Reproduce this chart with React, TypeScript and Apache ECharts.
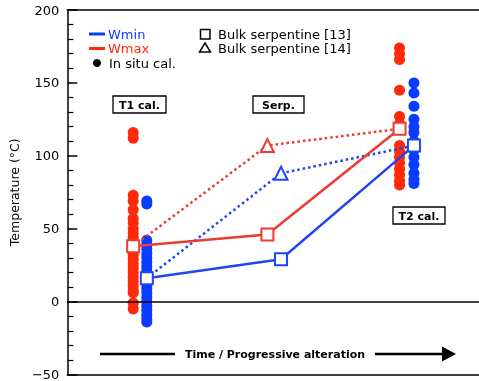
import React, { useEffect, useRef } from "react";
import * as echarts from "echarts";

// Stage positions along the (unlabelled) time axis
const stageWmaxX = [1.6, 4.86, 8.07];
const stageWminX = [1.93, 5.19, 8.42];

// In situ calibration dots (°C)
const t1WmaxDots = [116, 112, 73, 69, 63, 57, 54, 50, 47, 44, 41, 38, 35, 32, 29, 26, 23, 20, 17, 14, 11, 8, 6, -1, -5];
const t1WminDots = [69, 67, 42, 39, 36, 33, 30, 27, 24, 21, 18, 15, 12, 9, 6, 3, 0, -3, -6, -9, -12, -14];
const t2WmaxDots = [174, 170, 166, 145, 127, 122, 107, 103, 99, 95, 91, 87, 83, 80];
const t2WminDots = [150, 143, 134, 125, 120, 116, 110, 104, 99, 94, 88, 84, 81];

// Bulk serpentine [13] (squares) at T1, Serp., T2
const bulk13Wmax = [38, 46, 118.5];
const bulk13Wmin = [16, 29, 107];
// Bulk serpentine [14] (triangle) at Serp.
const bulk14Wmax = 107;
const bulk14Wmin = 88;

const yTicks = { min: -50, max: 200, interval: 50 };

const RED = "#ff2a0a";
const BLUE = "#0a3cff";
const RED_L = "#ec3b2f";
const BLUE_L = "#1f46f2";
const FONT = "DejaVu Sans";

export default function App() {
  const ref = useRef<HTMLDivElement>(null);
  useEffect(() => {
    if (!ref.current) return;
    const chart = echarts.init(ref.current, undefined, { renderer: "svg" });

    const redDots = [
      ...t1WmaxDots.map((v) => [stageWmaxX[0], v]),
      ...t2WmaxDots.map((v) => [stageWmaxX[2], v]),
    ];
    const blueDots = [
      ...t1WminDots.map((v) => [stageWminX[0], v]),
      ...t2WminDots.map((v) => [stageWminX[2], v]),
    ];

    const dotted = (xs: number[], sq: number[], tri: number, color: string) => ({
      type: "line",
      z: 3,
      data: [
        { value: [xs[0], sq[0]], symbol: "none" },
        { value: [xs[1], tri], symbol: "triangle", symbolSize: 13 },
        { value: [xs[2], sq[2]], symbol: "none" },
      ],
      lineStyle: { color, width: 2.5, type: [2.5, 3] },
      itemStyle: { color: "#fff", borderColor: color, borderWidth: 2 },
      symbolKeepAspect: true,
    });

    const solid = (xs: number[], sq: number[], color: string, extra: any = {}) => ({
      type: "line",
      z: 5,
      data: xs.map((x, i) => [x, sq[i]]),
      symbol: "rect",
      symbolSize: 12,
      lineStyle: { color, width: 2.5 },
      itemStyle: { color: "#fff", borderColor: color, borderWidth: 2 },
      ...extra,
    });

    const txt = (text: string, x: number, y: number, fill = "#000", font = `13px "${FONT}"`) => ({
      type: "text",
      x,
      y,
      style: { text, fill, font, align: "left", verticalAlign: "middle" },
    });

    const box = (text: string, x: number, y: number, w: number, h: number) => ({
      type: "group",
      children: [
        { type: "rect", shape: { x, y, width: w, height: h }, style: { fill: "#fff", stroke: "#000", lineWidth: 1.3 } },
        {
          type: "text",
          x: x + w / 2,
          y: y + h / 2 + 0.5,
          style: { text, fill: "#000", font: `bold 11px "${FONT}"`, align: "center", verticalAlign: "middle" },
        },
      ],
    });

    chart.setOption({
      animation: false,
      grid: { left: 65, top: 10, bottom: 6, width: 430 },
      xAxis: [
        {
          type: "value",
          min: 0,
          max: 10,
          axisLine: { show: true, onZero: false, lineStyle: { color: "#000", width: 1.5 } },
          axisTick: { show: false },
          axisLabel: { show: false },
          splitLine: { show: false },
        },
        {
          type: "value",
          position: "top",
          min: 0,
          max: 10,
          axisLine: { show: true, onZero: false, lineStyle: { color: "#000", width: 1.5 } },
          axisTick: { show: false },
          axisLabel: { show: false },
          splitLine: { show: false },
        },
      ],
      yAxis: {
        type: "value",
        min: yTicks.min,
        max: yTicks.max,
        interval: yTicks.interval,
        name: "Temperature (°C)",
        nameLocation: "middle",
        nameGap: 38,
        nameTextStyle: { fontFamily: FONT, fontSize: 12.5, color: "#000" },
        axisLine: { show: true, lineStyle: { color: "#000", width: 1.5 } },
        axisTick: { show: true, inside: true, length: 10, lineStyle: { color: "#000", width: 1.5 } },
        minorTick: { show: true, splitNumber: 5, length: 6, lineStyle: { color: "#000", width: 1.2 } },
        axisLabel: {
          color: "#000",
          fontFamily: FONT,
          fontSize: 13,
          margin: 8,
          formatter: (v: number) => (v < 0 ? "\u2212" + Math.abs(v) : String(v)),
        },
        splitLine: { show: false },
      },
      series: [
        { type: "scatter", z: 2, data: redDots, symbolSize: 11, itemStyle: { color: RED, opacity: 1 } },
        { type: "scatter", z: 2, data: blueDots, symbolSize: 11, itemStyle: { color: BLUE, opacity: 1 } },
        dotted(stageWmaxX, bulk13Wmax, bulk14Wmax, RED_L),
        dotted(stageWminX, bulk13Wmin, bulk14Wmin, BLUE_L),
        solid(stageWmaxX, bulk13Wmax, RED_L, {
          markLine: {
            silent: true,
            symbol: ["none", "none"],
            label: { show: false },
            lineStyle: { color: "#000", width: 1.5, type: "solid" },
            data: [{ yAxis: 0 }],
          },
        }),
        solid(stageWminX, bulk13Wmin, BLUE_L),
      ],
      graphic: [
        // legend
        { type: "line", shape: { x1: 89, y1: 34, x2: 105, y2: 34 }, style: { stroke: BLUE, lineWidth: 3 } },
        txt("Wmin", 108, 34, BLUE),
        { type: "line", shape: { x1: 89, y1: 48.5, x2: 105, y2: 48.5 }, style: { stroke: RED, lineWidth: 3 } },
        txt("Wmax", 108, 48.5, RED),
        { type: "circle", shape: { cx: 97, cy: 63, r: 4 }, style: { fill: "#000" } },
        txt("In situ cal.", 109, 63),
        { type: "rect", shape: { x: 200.5, y: 29.5, width: 9.5, height: 9.5 }, style: { fill: "#fff", stroke: "#000", lineWidth: 1.5 } },
        txt("Bulk serpentine [13]", 218, 34),
        { type: "polygon", shape: { points: [[205, 43], [210.5, 52], [199.5, 52]] }, style: { fill: "#fff", stroke: "#000", lineWidth: 1.5 } },
        txt("Bulk serpentine [14]", 218, 48.5),
        // stage boxes
        box("T1 cal.", 113, 96, 53, 17),
        box("Serp.", 253, 96, 51, 17),
        box("T2 cal.", 393, 207, 52, 17),
        // arrow
        { type: "line", shape: { x1: 100, y1: 354, x2: 175, y2: 354 }, style: { stroke: "#000", lineWidth: 2.5 } },
        {
          type: "text",
          x: 275,
          y: 354,
          style: { text: "Time / Progressive alteration", fill: "#000", font: `bold 11px "${FONT}"`, align: "center", verticalAlign: "middle" },
        },
        { type: "line", shape: { x1: 375, y1: 354, x2: 444, y2: 354 }, style: { stroke: "#000", lineWidth: 2.5 } },
        { type: "polygon", shape: { points: [[442, 346.5], [456, 354], [442, 361.5]] }, style: { fill: "#000" } },
      ],
    });
    return () => chart.dispose();
  }, []);
  return <div ref={ref} style={{ position: "fixed", left: 0, top: 0, width: 479, height: 381 }} />;
}
